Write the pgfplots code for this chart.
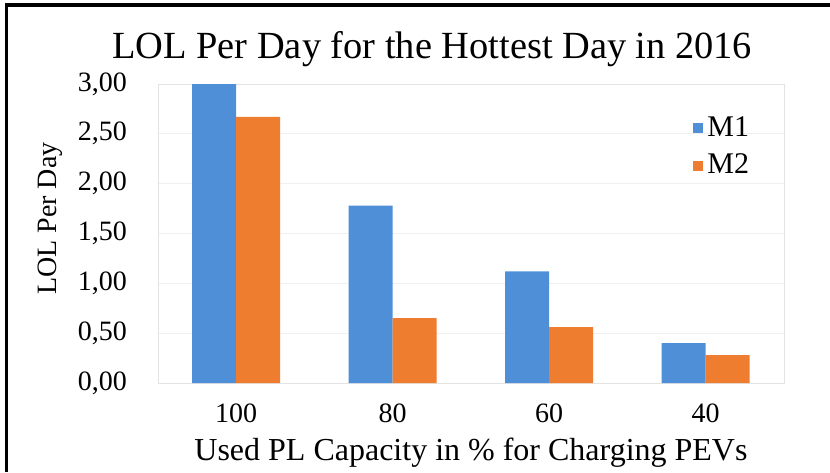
\documentclass[border=0pt]{standalone}
\usepackage{pgfplots}
\pgfplotsset{compat=1.18}
\usepackage{fontspec}
\setmainfont{Liberation Serif}
\definecolor{bblue}{HTML}{4E8FD8}
\definecolor{borange}{HTML}{EE7D2F}
\begin{document}
\begin{tikzpicture}
\useasboundingbox (-79pt,-44.5pt) rectangle (336pt,191.5pt);
\draw[line width=1.5pt] (-75.5pt,-44.5pt) -- (-75.5pt,189pt) -- (336pt,189pt);
\begin{axis}[
  at={(0,0)}, anchor=south west,
  scale only axis, width=313pt, height=149.5pt,
  xmin=-0.5, xmax=3.5, ymin=0, ymax=3,
  ybar=0pt, bar width=22pt,
  xtick={0,1,2,3}, xticklabels={100,80,60,40},
  ytick={0,0.5,1,1.5,2,2.5,3},
  yticklabels={{0,00},{0,50},{1,00},{1,50},{2,00},{2,50},{3,00}},
  ymajorgrids, grid style={gray!12},
  axis line style={gray!22},
  tick style={draw=none},
  ticklabel style={font=\fontsize{14}{16}\selectfont},
  yticklabel style={xshift=-12pt},
  xticklabel style={yshift=-2.5pt},
  title={LOL Per Day for the Hottest Day in 2016},
  title style={font=\fontsize{19.2}{22}\selectfont, at={(axis description cs:0.438,1)}, anchor=base, yshift=7pt},
  xlabel={Used PL Capacity in \% for Charging PEVs},
  xlabel style={font=\fontsize{16}{19}\selectfont, at={(axis description cs:0.5,-0.232)}, anchor=center},
  ylabel={LOL Per Day},
  ylabel style={font=\fontsize{14}{16}\selectfont, at={(axis description cs:-0.1725,0.55)}, anchor=center},
  legend style={at={(axis description cs:0.845,0.92)}, anchor=north west, draw=none, fill=none,
    font=\fontsize{15}{18}\selectfont, row sep=3.5pt},
  legend image code/.code={\fill[#1] (0pt,-2.5pt) rectangle (5pt,2.5pt);},
]
\addplot[fill=bblue, draw=none] coordinates {(0,3.00) (1,1.78) (2,1.12) (3,0.40)};
\addplot[fill=borange, draw=none] coordinates {(0,2.67) (1,0.65) (2,0.56) (3,0.28)};
\legend{M1,M2}
\end{axis}
\end{tikzpicture}
\end{document}
